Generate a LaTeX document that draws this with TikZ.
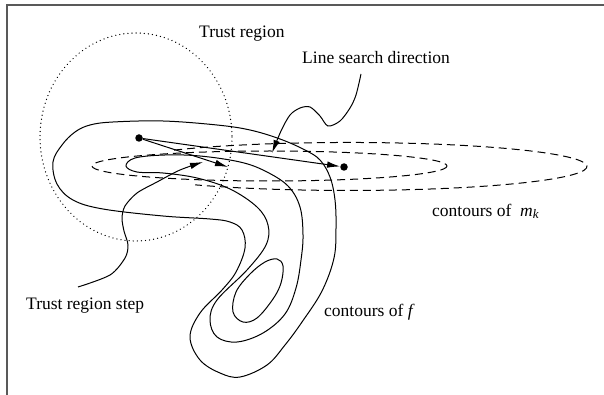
\documentclass[tikz,border=0pt]{standalone}
\usepackage{fontspec}
\setmainfont{Liberation Serif}
\usetikzlibrary{arrows.meta}

\begin{document}
\begin{tikzpicture}[x=1pt,y=-1pt,
    every node/.style={inner sep=0pt,font=\fontsize{17.5}{21}\selectfont},
    contour/.style={line width=1pt},
    model/.style={line width=1pt,dash pattern=on 8pt off 5pt},
    pointer/.style={line width=1pt,-{Latex[length=13pt,width=6.5pt]}},
    iterate/.style={circle,fill,minimum size=7.5pt}]
  \useasboundingbox (0,0) rectangle (604,395);
  % frame
  \draw [line width=2pt,black!65] (604,5.5) -- (6.5,5.5) -- (6.5,395);
  % trust region
  \draw [line width=1.3pt,line cap=round,dash pattern=on 0.1pt off 4pt] (136,137) ellipse [x radius=96,y radius=104];
  % contours of m_k
  \draw [model] (269.5,166) ellipse [x radius=177.5,y radius=15];
  \draw [model] (174.1,150.1) arc [start angle=-137,end angle=130,x radius=238.5,y radius=24];
  % contours of f
  \draw [contour] plot [smooth cycle,tension=0.6] coordinates {(90,125) (113,122) (163,121) (217,125) (250,130) (280,139) (305,150) (320,160) (330,177) (335,200) (336,228) (334,258) (322,291) (302,322) (285,345) (267,365) (240,377) (220,373) (200,360) (190,337) (200,313) (222,290) (236,272) (245,248) (242,230) (230,222) (210,219) (163,216) (103,209) (73,200) (57,184) (53,162) (62,145) (75,132)};
  \draw [contour] plot [smooth cycle,tension=0.6] coordinates {(126,166) (135,158) (165,155) (200,156) (240,162) (265,171) (288,186) (300,207) (303,235) (301,260) (296,288) (285,314) (263,333) (237,342) (217,337) (210,320) (217,300) (247,270) (266,245) (268,225) (257,207) (230,189) (197,178) (163,173) (137,172)};
  \draw [contour] plot [smooth cycle,tension=0.6] coordinates {(277,259) (283,266) (281,283) (273,299) (257,318) (243,322) (233,312) (236,292) (250,274) (265,262)};
  % iterates and steps
  \node [iterate] (xk) at (139,138) {};
  \node [iterate] (xm) at (344,167) {};
  \coordinate (trtip) at (228,167);
  \draw [pointer] (xk) -- (xm);
  \draw [pointer] (xk) -- (trtip);
  % labels
  \node [anchor=base west] (trlabel) at (199,38) {Trust region};
  \node [anchor=base west] (lslabel) at (302,64) {Line search direction};
  \node [anchor=base west] (trslabel) at (26,309) {Trust region step};
  \node [anchor=base west] (flabel) at (324,316) {contours of \textit{f}};
  \node [anchor=base west] (mlabel) at (432,216) {contours of\ \ \textit{m}\raisebox{-0.35ex}{\fontsize{13}{15}\selectfont\textit{k}}};
  % pointers
  \coordinate (lsfoot) at (361,74);
  \coordinate (lstip) at (272,153);
  \coordinate (trsfoot) at (78,287);
  \coordinate (trstip) at (203,162);
  \draw [pointer] plot [smooth] coordinates {(lsfoot) (356,95) (350,108) (340,121) (328,126) (320,116) (310,107) (300,108) (290,115) (281,131) (lstip)};
  \draw [pointer] plot [smooth] coordinates {(trsfoot) (110,275) (125,258) (128,245) (124,231) (122,218) (125,206) (137,193) (157,182) (180,170) (trstip)};
\end{tikzpicture}
\end{document}
